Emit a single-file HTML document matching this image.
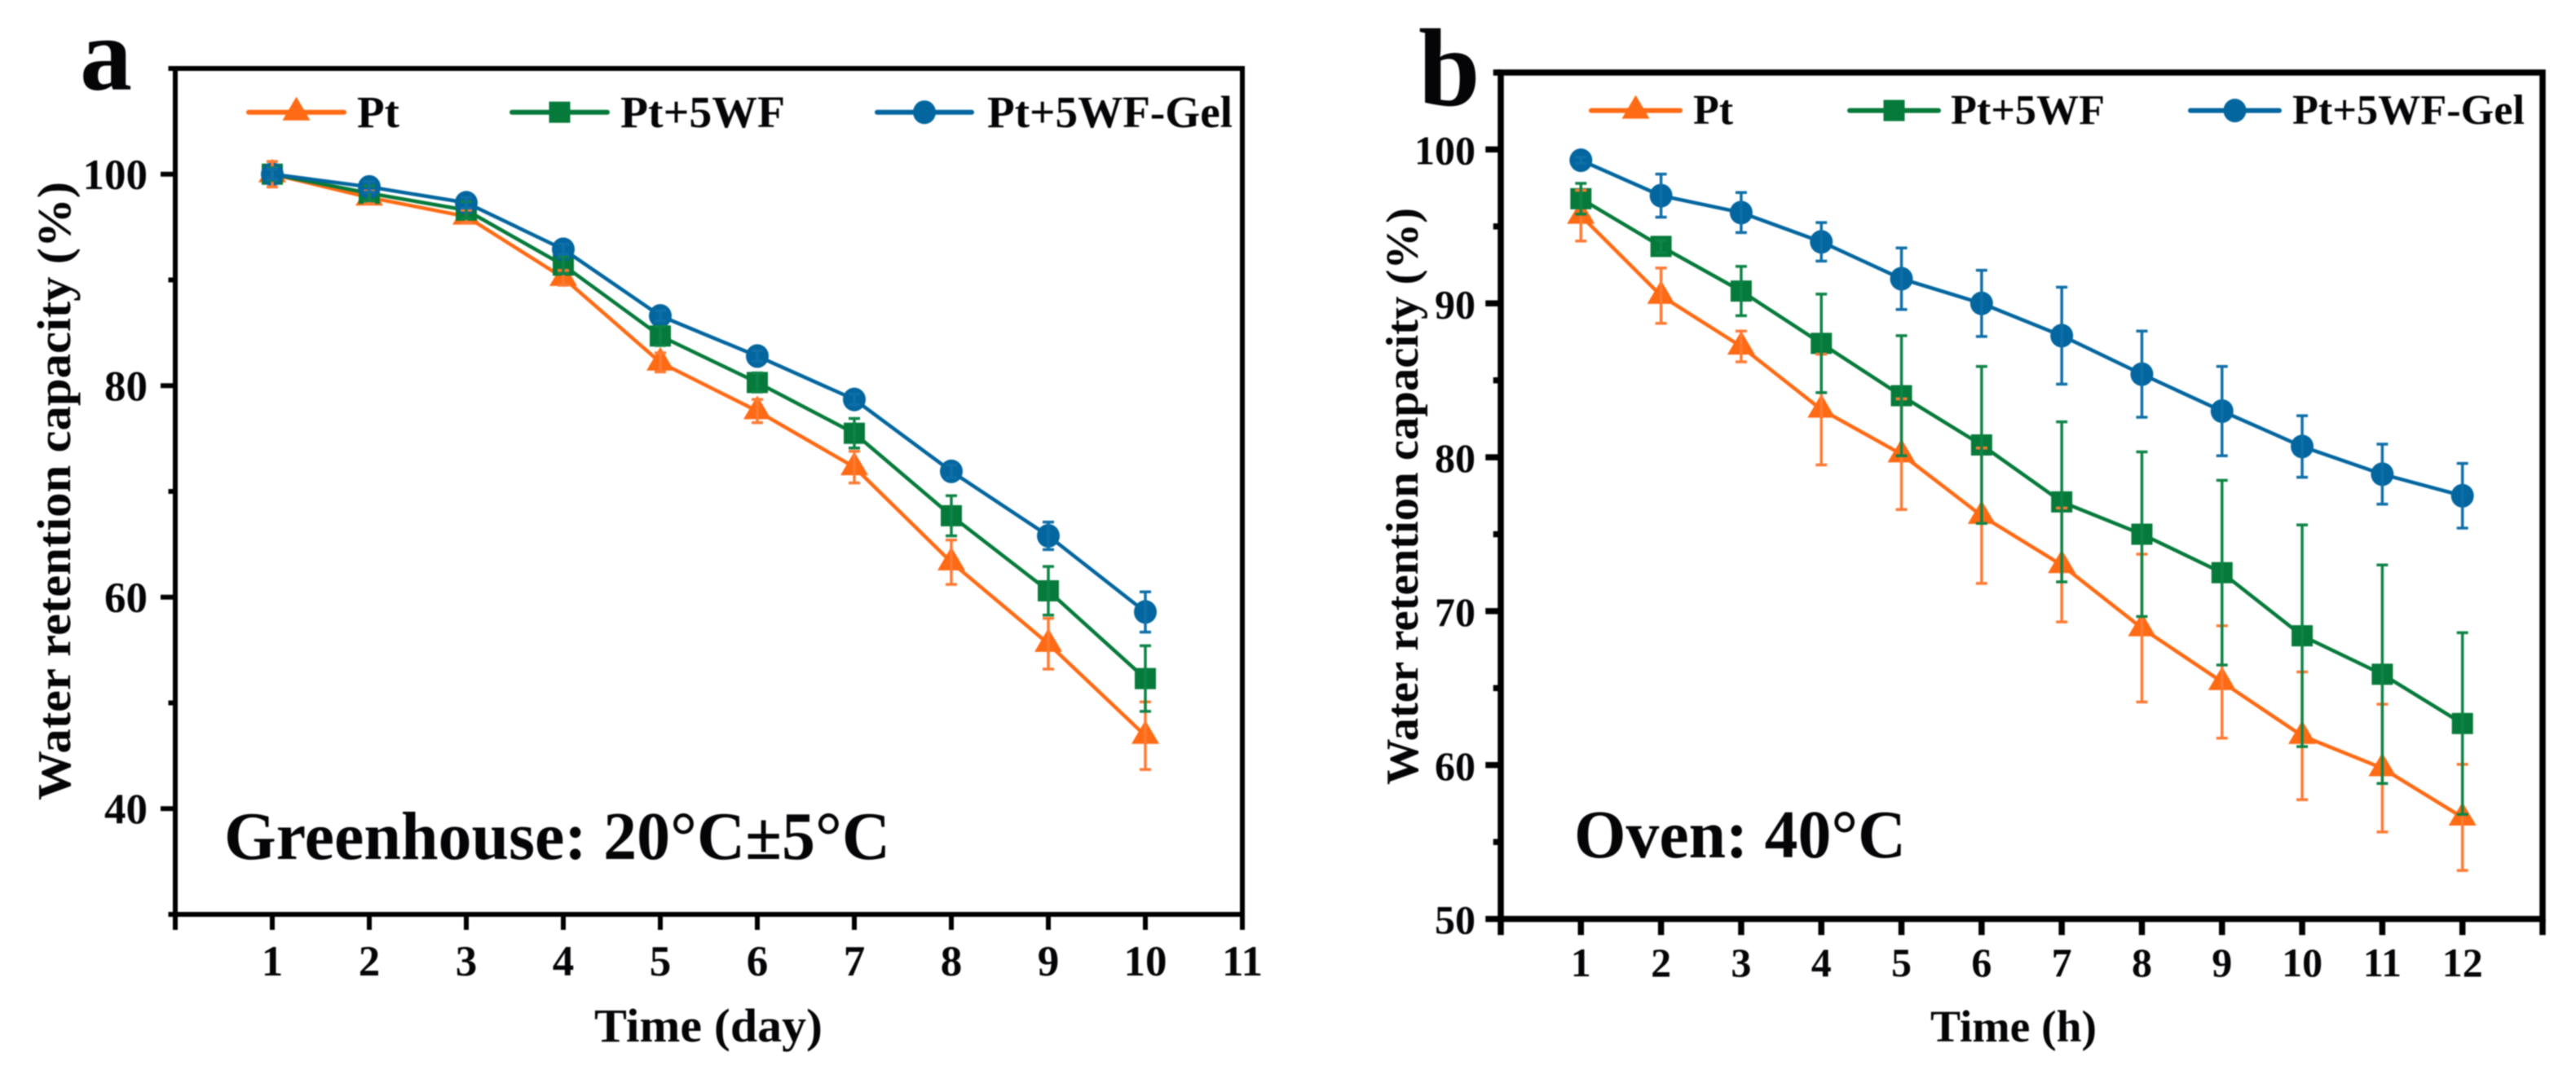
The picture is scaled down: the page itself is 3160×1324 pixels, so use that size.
<!DOCTYPE html>
<html lang="en">
<head>
<meta charset="utf-8">
<title>Water retention capacity charts</title>
<style>
html,body{margin:0;padding:0;background:#fff;width:3160px;height:1324px;overflow:hidden}
svg{display:block;filter:blur(0.9px)}
text{font-family:"Liberation Serif",serif;font-weight:bold;fill:#050508}
</style>
</head>
<body>
<svg id="figure" xmlns="http://www.w3.org/2000/svg" width="3160" height="1324" viewBox="0 0 3160 1324">
  <rect width="3160" height="1324" fill="#fff"/>
  <g id="panel-a"></g>
  <g id="panel-b"></g>

  <text x="98" y="110" font-size="128">a</text>
  <text x="1740" y="129" font-size="136">b</text>

  <text transform="translate(86,982) rotate(-90)" font-size="58" textLength="759" lengthAdjust="spacingAndGlyphs">Water retention capacity (%)</text>
  <text transform="translate(1739,963) rotate(-90)" font-size="56" textLength="708" lengthAdjust="spacingAndGlyphs">Water retention capacity (%)</text>

  <text x="729" y="1278" font-size="58" textLength="280" lengthAdjust="spacingAndGlyphs">Time (day)</text>
  <text x="2368" y="1278" font-size="55" textLength="204" lengthAdjust="spacingAndGlyphs">Time (h)</text>

  <text x="275" y="1054" font-size="84" textLength="817" lengthAdjust="spacingAndGlyphs">Greenhouse: 20°C±5°C</text>
  <text x="1931" y="1052" font-size="84" textLength="407" lengthAdjust="spacingAndGlyphs">Oven: 40°C</text>

  <text x="438" y="156" font-size="55">Pt</text>
  <text x="761" y="156" font-size="55" textLength="202" lengthAdjust="spacingAndGlyphs">Pt+5WF</text>
  <text x="1211" y="156" font-size="55" textLength="301" lengthAdjust="spacingAndGlyphs">Pt+5WF-Gel</text>
  <text x="2077" y="152" font-size="52">Pt</text>
  <text x="2393" y="152" font-size="52" textLength="189" lengthAdjust="spacingAndGlyphs">Pt+5WF</text>
  <text x="2812" y="152" font-size="52" textLength="285" lengthAdjust="spacingAndGlyphs">Pt+5WF-Gel</text>
</svg>
<script>
// Panel a data
const aCategories = [1, 2, 3, 4, 5, 6, 7, 8, 9, 10];
const aXTickLabels = ['1', '2', '3', '4', '5', '6', '7', '8', '9', '10', '11'];
const aYTickLabels = ['100', '80', '60', '40'];
const aPt = [100, 97.8, 96.0, 90.2, 82.2, 77.6, 72.3, 63.3, 55.6, 46.9];
const aPtErr = [1.2, 0.6, 0.6, 0.7, 0.9, 1.1, 1.5, 2.1, 2.4, 3.2];
const aWf = [100, 98.2, 96.6, 91.4, 84.7, 80.3, 75.5, 67.7, 60.6, 52.3];
const aWfErr = [0.6, 0.7, 0.8, 0.8, 0.9, 0.9, 1.4, 1.9, 2.3, 3.1];
const aGel = [100, 98.8, 97.3, 92.9, 86.6, 82.8, 78.7, 71.9, 65.8, 58.6];
const aGelErr = [0.5, 0.5, 0.5, 0.5, 0.5, 0.5, 0.5, 0.6, 1.3, 1.9];

// Panel b data
const bCategories = [1, 2, 3, 4, 5, 6, 7, 8, 9, 10, 11, 12];
const bXTickLabels = ['1', '2', '3', '4', '5', '6', '7', '8', '9', '10', '11', '12'];
const bYTickLabels = ['100', '90', '80', '70', '60', '50'];
const bPt = [95.7, 90.5, 87.2, 83.1, 80.2, 76.2, 73.0, 68.9, 65.4, 61.9, 59.8, 56.6];
const bPtErr = [1.65, 1.8, 1.0, 3.6, 3.6, 4.4, 3.7, 4.8, 3.65, 4.15, 4.15, 3.45];
const bWf = [96.8, 93.7, 90.8, 87.4, 84.0, 80.8, 77.1, 75.0, 72.5, 68.4, 65.9, 62.7];
const bWfErr = [1.0, 0.4, 1.6, 3.2, 3.9, 5.1, 5.2, 5.35, 6.0, 7.2, 7.1, 5.9];
const bGel = [99.3, 97.0, 95.9, 94.0, 91.6, 90.0, 87.9, 85.4, 83.0, 80.7, 78.9, 77.5];
const bGelErr = [0.2, 1.4, 1.3, 1.25, 2.0, 2.15, 3.15, 2.8, 2.9, 2.0, 1.95, 2.1];

const NS = 'http://www.w3.org/2000/svg';
const ORANGE = '#ff6a14';
const GREEN = '#067a3a';
const BLUE = '#03669f';

function make(tag, attrs, parent) {
  const el = document.createElementNS(NS, tag);
  for (const k in attrs) el.setAttribute(k, attrs[k]);
  parent.appendChild(el);
  return el;
}

function drawMarker(kind, x, y, color, parent, name) {
  let el;
  if (kind === 'triangle') {
    el = make('polygon', { points: (x - 17) + ',' + (y + 10) + ' ' + (x + 17) + ',' + (y + 10) + ' ' + x + ',' + (y - 19), fill: color }, parent);
  } else if (kind === 'square') {
    el = make('rect', { x: x - 13, y: y - 13, width: 26, height: 26, fill: color }, parent);
  } else {
    el = make('ellipse', { cx: x, cy: y, rx: 14, ry: 14.5, fill: color }, parent);
  }
  
  
}

function drawPanel(cfg) {
  const root = document.getElementById(cfg.id);
  const sx = v => cfg.x0 + (v - cfg.xMin) * (cfg.x1 - cfg.x0) / (cfg.xMax - cfg.xMin);
  const sy = v => cfg.y0 + (v - cfg.yMin) * (cfg.y1 - cfg.y0) / (cfg.yMax - cfg.yMin);

  // frame
  const frame = make('rect', { x: cfg.x0, y: cfg.y1, width: cfg.x1 - cfg.x0, height: cfg.y0 - cfg.y1, fill: 'none', stroke: '#000', 'stroke-width': cfg.frameW }, root);
  
  

  // x ticks
  for (let v = cfg.xMin; v <= cfg.xMax; v++) {
    const t = make('line', { x1: sx(v), x2: sx(v), y1: cfg.y0, y2: cfg.y0 + cfg.frameW / 2 + 16, stroke: '#000', 'stroke-width': cfg.frameW }, root);
    
    
  }
  cfg.xLabels.forEach(label => {
    const t = make('text', { x: sx(Number(label)), y: cfg.xLabelY, 'font-size': cfg.tickFont, 'text-anchor': 'middle' }, root);
    t.textContent = label;
    
    
  });

  // y ticks
  for (let v = cfg.yMin; v <= cfg.yMax + 0.001; v += cfg.yMinorStep) {
    const isMajor = cfg.yLabels.includes(String(v));
    const len = isMajor ? 15 : 5.5;
    const t = make('line', { x1: cfg.x0 - cfg.frameW / 2 - len, x2: cfg.x0, y1: sy(v), y2: sy(v), stroke: '#000', 'stroke-width': cfg.frameW }, root);
    
    
  }
  cfg.yLabels.forEach(label => {
    const t = make('text', { x: cfg.yLabelX, y: sy(Number(label)) + 18, 'font-size': cfg.tickFont, 'text-anchor': 'end' }, root);
    t.textContent = label;
    
    
  });

  // series lines and markers
  cfg.series.forEach(s => {
    const g = make('g', {}, root);
    
    
    const pts = s.values.map((v, i) => sx(cfg.categories[i]) + ',' + sy(v)).join(' ');
    const line = make('polyline', { points: pts, fill: 'none', stroke: s.color, 'stroke-width': 4.5, 'stroke-linejoin': 'round' }, g);
    
    
    s.values.forEach((v, i) => {
      drawMarker(s.marker, sx(cfg.categories[i]), sy(v), s.color, g, cfg.prefix + '-point-' + s.key);
    });
  });

  // error bars on top of the markers
  cfg.series.forEach(s => {
    const g = make('g', { stroke: s.barColor, 'stroke-width': 3.5, fill: 'none' }, root);
    
    
    s.values.forEach((v, i) => {
      const x = sx(cfg.categories[i]);
      const top = sy(v + s.errors[i]);
      const bottom = sy(v - s.errors[i]);
      const bar = make('path', { d: 'M' + x + ' ' + top + 'V' + bottom + 'M' + (x - 7) + ' ' + top + 'H' + (x + 7) + 'M' + (x - 7) + ' ' + bottom + 'H' + (x + 7) }, g);
      
      
    });
  });

  // legend glyphs
  cfg.series.forEach((s, i) => {
    const L = cfg.legend[i];
    const g = make('g', {}, root);
    
    
    const l = make('line', { x1: L[0], x2: L[1], y1: cfg.legendY, y2: cfg.legendY, stroke: s.color, 'stroke-width': 6, 'stroke-linecap': 'round' }, g);
    
    
    drawMarker(s.marker, (L[0] + L[1]) / 2, cfg.legendY, s.color, g, cfg.prefix + '-legend-marker-' + s.key);
  });
}

drawPanel({
  id: 'panel-a', prefix: 'panel-a',
  x0: 215, x1: 1524, y0: 1122, y1: 84,
  xMin: 0, xMax: 11, yMin: 30, yMax: 110, yMinorStep: 10,
  frameW: 6, tickFont: 53, xLabelY: 1197, yLabelX: 181,
  categories: aCategories, xLabels: aXTickLabels, yLabels: aYTickLabels,
  legendY: 137.7, legend: [[305, 422], [628, 745], [1076, 1192]],
  series: [
    { key: 'pt', color: ORANGE, barColor: '#ff7a33', marker: 'triangle', values: aPt, errors: aPtErr },
    { key: 'pt-5wf', color: GREEN, barColor: '#0d8446', marker: 'square', values: aWf, errors: aWfErr },
    { key: 'pt-5wf-gel', color: BLUE, barColor: '#0f6fa8', marker: 'circle', values: aGel, errors: aGelErr }
  ]
});

drawPanel({
  id: 'panel-b', prefix: 'panel-b',
  x0: 1841, x1: 3119, y0: 1127.6, y1: 89,
  xMin: 0, xMax: 13, yMin: 50, yMax: 105, yMinorStep: 5,
  frameW: 7.5, tickFont: 50, xLabelY: 1198, yLabelX: 1810,
  categories: bCategories, xLabels: bXTickLabels, yLabels: bYTickLabels,
  legendY: 135.6, legend: [[1952, 2061], [2269, 2378], [2687, 2796]],
  series: [
    { key: 'pt', color: ORANGE, barColor: '#ff7a33', marker: 'triangle', values: bPt, errors: bPtErr },
    { key: 'pt-5wf', color: GREEN, barColor: '#0d8446', marker: 'square', values: bWf, errors: bWfErr },
    { key: 'pt-5wf-gel', color: BLUE, barColor: '#0f6fa8', marker: 'circle', values: bGel, errors: bGelErr }
  ]
});
</script>
</body>
</html>
